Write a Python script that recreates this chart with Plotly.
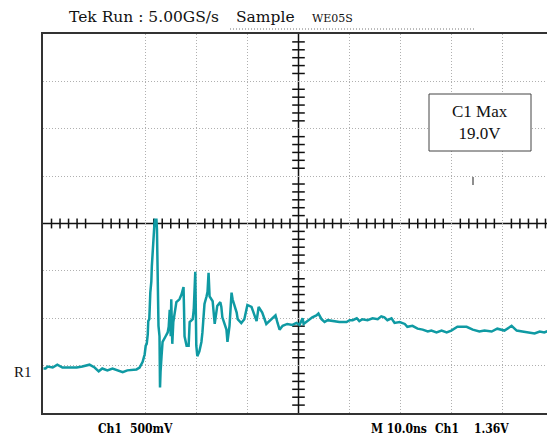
import plotly.graph_objects as go

# Time (ns from left edge of screen) and voltage (V, relative to screen centre)
time_ns = [0.1, 0.5, 0.9, 1.9, 2.8, 3.8, 5.2, 6.6, 7.7, 9.1, 10.1, 10.9, 11.6, 12.6, 13.6, 14.6,
           15.6, 16.5, 18.3, 18.9, 19.5, 19.9, 20.1, 20.3, 20.5, 20.6, 20.8, 21.0, 21.2, 21.3, 21.4,
           21.5, 21.6, 21.8, 21.9, 22.2, 22.3, 22.4, 22.5, 22.6, 22.8, 22.9, 23.0, 23.2, 23.4, 24.0,
           24.4, 24.6, 24.8, 25.0, 25.1, 25.3, 25.5, 26.1, 26.7, 27.1, 27.5, 27.6, 27.7, 28.1, 28.5,
           28.7, 29.3, 29.5, 29.8, 30.0, 30.2, 30.6, 31.0, 31.2, 31.6, 32.0, 32.2, 32.4, 32.6, 33.2,
           33.6, 34.1, 34.7, 34.9, 35.1, 35.9, 36.1, 36.5, 36.9, 37.1, 37.9, 38.1, 38.8, 39.4, 39.8,
           40.0, 40.8, 41.4, 41.8, 42.2, 42.9, 43.7, 44.3, 44.9, 45.5, 45.9, 46.3, 46.9, 47.8, 48.8,
           49.6, 50.2, 50.8, 51.0, 51.8, 52.7, 53.5, 53.9, 54.5, 55.1, 55.7, 56.7, 58.0, 59.4, 60.0,
           60.6, 61.4, 61.9, 62.5, 63.5, 64.5, 65.5, 66.2, 66.8, 67.4, 68.2, 68.8, 69.8, 70.8, 71.3,
           72.3, 73.3, 74.3, 75.3, 76.0, 77.0, 78.0, 79.0, 79.9, 81.1, 82.9, 84.1, 85.4, 86.4, 87.8,
           88.9, 90.3, 91.7, 92.7, 93.8, 95.2, 96.2, 97.2, 98.1, 99.1, 99.9]
volts = [-1.53, -1.53, -1.51, -1.52, -1.49, -1.52, -1.52, -1.52, -1.51, -1.49, -1.52, -1.56, -1.53,
         -1.55, -1.53, -1.55, -1.57, -1.55, -1.54, -1.52, -1.46, -1.38, -1.29, -1.27, -1.17, -1.03,
         -1.01, -0.73, -0.61, -0.45, -0.35, -0.20, -0.17, -0.01, 0.04, 0.04, -0.06, -0.35, -0.77,
         -1.08, -1.19, -1.73, -1.57, -1.40, -1.25, -1.19, -1.15, -1.09, -0.91, -1.19, -0.80, -1.27,
         -1.04, -0.83, -0.80, -0.75, -0.67, -0.91, -1.19, -1.29, -1.29, -1.04, -1.01, -0.91, -0.51,
         -1.29, -1.40, -1.35, -1.25, -1.15, -0.85, -0.77, -0.72, -0.52, -0.77, -0.82, -1.06, -0.87,
         -0.83, -0.88, -0.99, -1.12, -1.25, -1.08, -0.73, -0.80, -0.94, -1.01, -1.05, -1.01, -0.93,
         -0.86, -0.88, -0.98, -1.03, -0.88, -0.94, -1.06, -1.03, -0.99, -0.97, -1.05, -1.12, -1.08,
         -1.06, -1.07, -1.05, -1.07, -1.00, -1.06, -1.03, -0.99, -0.97, -0.95, -1.01, -1.04, -1.02,
         -1.03, -1.04, -1.04, -1.02, -1.02, -1.00, -1.03, -1.01, -1.02, -1.00, -1.01, -0.98, -0.99,
         -1.02, -1.00, -1.05, -1.04, -1.06, -1.09, -1.08, -1.11, -1.12, -1.14, -1.13, -1.15, -1.13,
         -1.15, -1.13, -1.09, -1.09, -1.12, -1.14, -1.13, -1.14, -1.11, -1.13, -1.08, -1.13, -1.14,
         -1.15, -1.16, -1.14, -1.15, -1.13, -1.14]

x_grid = [20, 30, 40, 60, 70, 80, 90]
y_grid = [-1.5, -1.0, -0.5, 0.5, 1.0, 1.5]

# the page body adds an 8px offset; the figure is sized so the screen lines up
OFF = 8
W, H = 555 - OFF, 439 - OFF
L, R, T, B = 43 - OFF, 1, 34 - OFF, 26
PW, PH = W - L - R, H - T - B


def px(x):  # screen pixel -> paper
    return (x - OFF - L) / PW


def py(y):
    return (H - B - (y - OFF)) / PH


fig = go.Figure()

# centre graticule axes with minor ticks
hx = [d * 10 + k * 10 / 6 for d in range(10) for k in range(1, 6)]
vy = [-2 + d * 0.5 + k * 0.5 / 6 for d in range(8) for k in range(1, 6)]
fig.add_trace(go.Scatter(x=hx, y=[0] * len(hx), mode="markers", hoverinfo="skip",
                         marker=dict(symbol="line-ns", size=7, line=dict(width=1.5, color="#111"))))
fig.add_trace(go.Scatter(x=[50] * len(vy), y=vy, mode="markers", hoverinfo="skip",
                         marker=dict(symbol="line-ew", size=9, line=dict(width=1.5, color="#111"))))

fig.add_trace(go.Scatter(x=time_ns, y=volts, mode="lines",
                         line=dict(color="#0f9aa3", width=2.5), hoverinfo="skip"))

fig.add_shape(type="line", x0=50, x1=50, y0=-2, y1=2, line=dict(color="#111", width=1.5), layer="below")
fig.add_shape(type="line", x0=0, x1=100, y0=0, y1=0, line=dict(color="#111", width=1.5), layer="below")

# measurement box
fig.add_shape(type="rect", xref="paper", yref="paper", x0=px(429), x1=px(531), y0=py(151), y1=py(94),
              line=dict(color="#444", width=1), fillcolor="white")
fig.add_annotation(xref="paper", yref="paper", x=px(480), y=py(123), text="C1 Max<br>19.0V",
                   showarrow=False, font=dict(family="Liberation Serif", size=17, color="#111"),
                   xanchor="center", yanchor="middle")
# trigger marker
fig.add_shape(type="line", xref="paper", yref="paper", x0=px(473), x1=px(473), y0=py(185), y1=py(177),
              line=dict(color="#444", width=1.2))

# header
fig.add_shape(type="line", xref="paper", yref="paper", x0=px(230), x1=px(474), y0=py(29), y1=py(29),
              line=dict(color="#777", width=1, dash="1px,2px"))
hdr_font = dict(family="DejaVu Serif", size=15.5, color="#111")
fig.add_annotation(xref="paper", yref="paper", x=px(67), y=py(17), text="Tek Run : 5.00GS/s",
                   showarrow=False, font=hdr_font, xanchor="left", yanchor="middle")
fig.add_annotation(xref="paper", yref="paper", x=px(234), y=py(17), text="Sample",
                   showarrow=False, font=hdr_font, xanchor="left", yanchor="middle")
fig.add_annotation(xref="paper", yref="paper", x=px(310), y=py(18), text="WE05S",
                   showarrow=False, font=dict(family="DejaVu Serif", size=11, color="#111"),
                   xanchor="left", yanchor="middle")

# footer
ft = dict(family="DejaVu Serif Condensed", size=12, color="#000", weight="bold")
for xx, txt in [(96, "Ch1"), (128, "500mV"), (369, "M 10.0ns"), (433, "Ch1"), (472, "1.36V")]:
    fig.add_annotation(xref="paper", yref="paper", x=px(xx), y=py(429), text=txt,
                       showarrow=False, font=ft, xanchor="left", yanchor="middle")

fig.add_annotation(xref="paper", yref="paper", x=px(12), y=py(372), text="R1",
                   showarrow=False, font=dict(family="Liberation Serif", size=15, color="#111"),
                   xanchor="left", yanchor="middle")

fig.update_xaxes(range=[0, 100], tickvals=x_grid, showticklabels=False, ticks="",
                 showgrid=True, gridcolor="#b0b0b0", griddash="1px,2px", gridwidth=1,
                 showline=True, linecolor="#333", linewidth=1.5, mirror=True, zeroline=False)
fig.update_yaxes(range=[-2, 2], tickvals=y_grid, showticklabels=False, ticks="",
                 showgrid=True, gridcolor="#b0b0b0", griddash="1px,2px", gridwidth=1,
                 showline=True, linecolor="#333", linewidth=1.5, mirror=True, zeroline=False)

fig.update_layout(width=W, height=H, margin=dict(l=L, r=R, t=T, b=B, autoexpand=False),
                  showlegend=False, paper_bgcolor="white", plot_bgcolor="white")

fig.write_html("out.html")
